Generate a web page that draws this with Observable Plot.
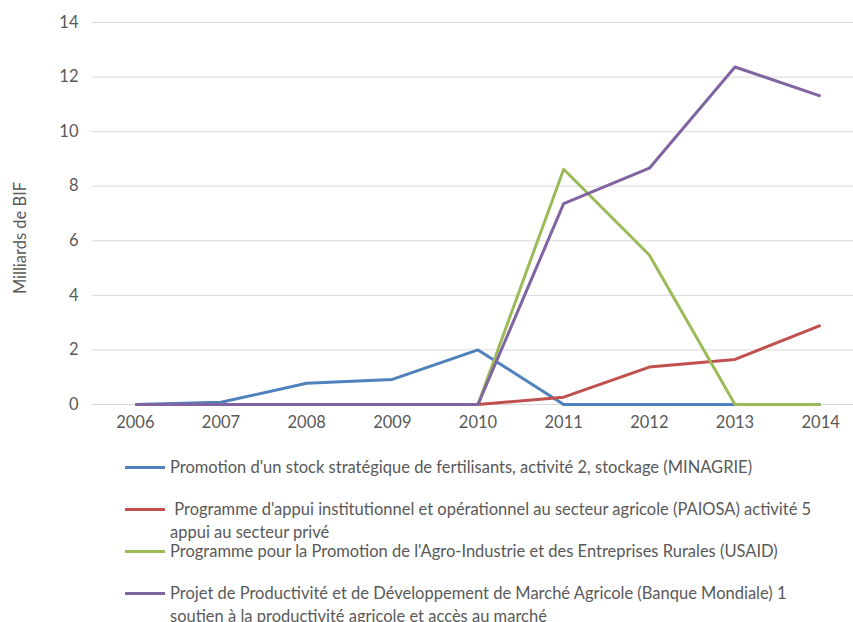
<!DOCTYPE html>
<html>
<head>
<meta charset="utf-8">
<script src="https://cdn.jsdelivr.net/npm/d3@7"></script>
<script src="https://cdn.jsdelivr.net/npm/@observablehq/plot@0.6"></script>
<style>
  html, body { margin: 0; padding: 0; background: #fff; overflow: hidden; }
  body { width: 853px; height: 622px; font-family: Lato, sans-serif; }
  #chart { position: relative; width: 853px; height: 440px; }
  #ylabel { position: absolute; left: 20px; top: 238px; transform: translate(-50%, -50%) rotate(-90deg); font-size: 16.5px; color: #595959; white-space: nowrap; }
  #legend { position: relative; margin-top: 16px; }
  .item { position: relative; height: 42px; }
  .sw { position: absolute; left: 125px; top: 10px; width: 40px; height: 3px; }
  .lbl { position: absolute; left: 170px; top: 0; width: 648px; font-size: 16.5px; line-height: 22.5px; color: #595959; white-space: pre-wrap; }
</style>
</head>
<body>
<div id="chart"><div id="ylabel">Milliards de BIF</div></div>
<div id="legend"></div>
<script>
const years = [2006, 2007, 2008, 2009, 2010, 2011, 2012, 2013, 2014];
const seriesNames = [
  "Promotion d'un stock stratégique de fertilisants, activité 2, stockage (MINAGRIE)",
  " Programme d'appui institutionnel et opérationnel au secteur agricole (PAIOSA) activité 5 appui au secteur privé",
  "Programme pour la Promotion de l'Agro-Industrie et des Entreprises Rurales (USAID)",
  "Projet de Productivité et de Développement de Marché Agricole (Banque Mondiale) 1 soutien à la productivité agricole et accès au marché"
];
const minagrie = [0, 0.08, 0.78, 0.92, 2.0, 0, 0, 0, 0];
const paiosa   = [0, 0, 0, 0, 0, 0.27, 1.37, 1.65, 2.9];
const usaid    = [0, 0, 0, 0, 0, 8.62, 5.48, 0, 0];
const banque   = [0, 0, 0, 0, 0, 7.36, 8.66, 12.37, 11.3];
const colors = ["#4F81BD", "#C0504D", "#9BBB59", "#8064A2"];
const yTicks = [0, 2, 4, 6, 8, 10, 12, 14];

const allSeries = [minagrie, paiosa, usaid, banque];
const rows = [];
allSeries.forEach((vals, s) => years.forEach((yr, i) => rows.push({series: seriesNames[s], year: yr, value: vals[i]})));

const chart = Plot.plot({
  width: 853,
  height: 440,
  marginLeft: 92,
  marginRight: 0,
  marginTop: 22,
  marginBottom: 36,
  style: {fontFamily: "Lato, sans-serif", fontSize: "16.5px", color: "#595959", background: "white"},
  x: {domain: [2005.5, 2014.5], range: [92, 863]},
  y: {domain: [0, 14]},
  color: {domain: seriesNames, range: colors},
  marks: [
    Plot.ruleY(yTicks, {x1: 2005.5, x2: 2014.5, stroke: "#D9D9D9", strokeWidth: 1}),
    Plot.axisY({ticks: yTicks, tickSize: 0, tickPadding: 14, label: null, fill: "#595959", fontSize: 16.5}),
    Plot.axisX({ticks: years, tickSize: 0, tickPadding: 12, tickFormat: d => String(d), label: null, fill: "#595959", fontSize: 16.5}),
    Plot.line(rows, {x: "year", y: "value", z: "series", stroke: "series", strokeWidth: 3, strokeLinejoin: "round", strokeLinecap: "butt"})
  ]
});
document.getElementById("chart").insertBefore(chart, document.getElementById("ylabel"));

const legend = document.getElementById("legend");
seriesNames.forEach((name, i) => {
  const item = document.createElement("div");
  item.className = "item";
  const sw = document.createElement("div");
  sw.className = "sw";
  sw.style.background = colors[i];
  const lbl = document.createElement("div");
  lbl.className = "lbl";
  lbl.textContent = name;
  item.appendChild(sw);
  item.appendChild(lbl);
  legend.appendChild(item);
});
</script>
</body>
</html>
